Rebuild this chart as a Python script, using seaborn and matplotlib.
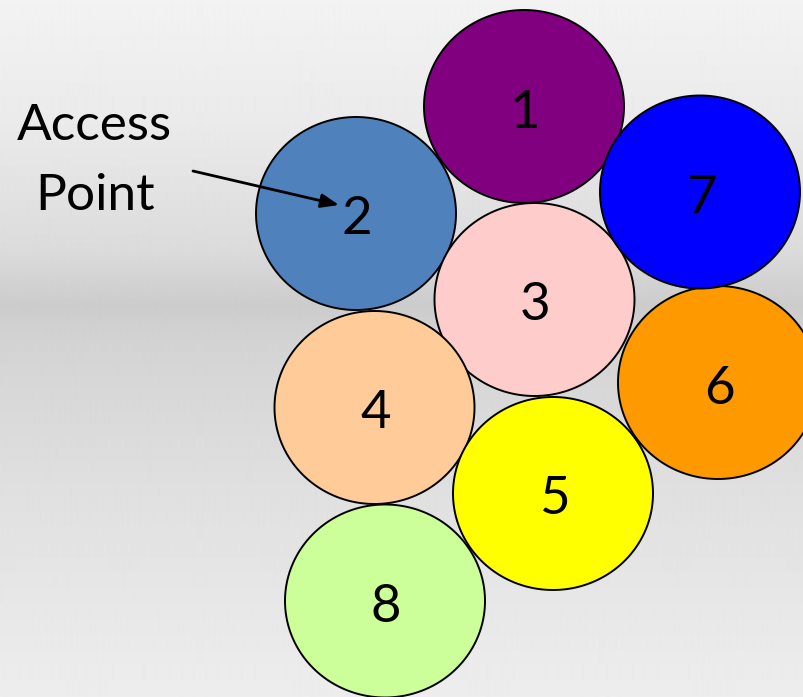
import numpy as np
import pandas as pd
import matplotlib
matplotlib.use("Agg")
import matplotlib.pyplot as plt
from matplotlib.path import Path
import seaborn as sns

# circles (centres in picture pixels, y downwards)
labels = ["1", "2", "3", "4", "5", "6", "7", "8"]
x_pos = [524, 356, 534.5, 374.5, 553, 718, 700, 385]
y_pos = [106.5, 213.5, 299.5, 407.5, 493.5, 382.5, 192, 601]
colors = ["#800080", "#4F81BD", "#FFCCCC", "#FFCC99",
          "#FFFF00", "#FF9900", "#0000FF", "#CCFF99"]

df = pd.DataFrame({"node": labels, "x": x_pos, "y": y_pos})

sns.set_theme(style="white")
plt.rcParams["font.family"] = ["Lato", "DejaVu Sans"]

W, H = 804, 697
fig = plt.figure(figsize=(W / 100, H / 100), dpi=100)
ax = fig.add_axes([0, 0, 1, 1])

# grey gradient background (dark band around y=305)
yy = np.arange(H)
grey = np.interp(yy, [0, 120, 250, 305, 345, 500, 697],
                 [0.95, 0.92, 0.86, 0.80, 0.83, 0.88, 0.93])
bg = np.repeat(grey[:, None], 2, axis=1)
ax.imshow(bg, cmap="gray", vmin=0, vmax=1, extent=[0, W, H, 0], aspect="auto",
          interpolation="bilinear", zorder=0)

# slightly flattened circle marker (200 x 193 px)
t = np.linspace(0, 2 * np.pi, 200)
ell = Path(np.column_stack([np.cos(t), 0.965 * np.sin(t)]), closed=True)
diam_pt = 200 * 72 / 100

sns.scatterplot(data=df, x="x", y="y", hue="node", palette=dict(zip(labels, colors)),
                marker=ell, s=diam_pt ** 2, edgecolor="black", linewidth=1.4,
                legend=False, ax=ax, zorder=2)

for lab, x, y in zip(labels, x_pos, y_pos):
    ax.text(x + 1, y + 2, lab, fontsize=38, ha="center", va="center_baseline",
            color="black", zorder=3)

ax.text(94, 121, "Access", fontsize=37, ha="center", va="center_baseline",
        color="black", zorder=3)
ax.text(95, 191, "Point", fontsize=37, ha="center", va="center_baseline",
        color="black", zorder=3)
ax.annotate("", xy=(339, 205), xytext=(193, 171),
            arrowprops=dict(arrowstyle="-|>,head_length=0.9,head_width=0.35",
                            color="black", lw=2, shrinkA=0, shrinkB=0), zorder=4)

ax.set_xlim(0, W)
ax.set_ylim(H, 0)
ax.set_axis_off()
fig.savefig("out.png", dpi=100)
